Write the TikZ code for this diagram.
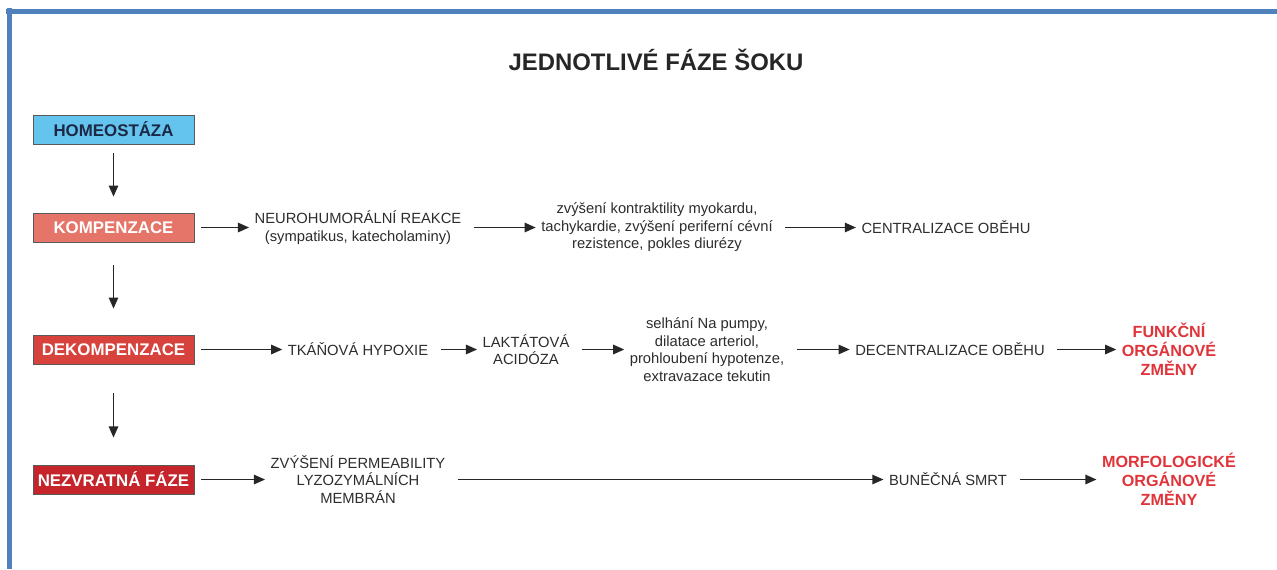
\documentclass[tikz,border=0pt]{standalone}
\usepackage{fontspec}
\setmainfont{Liberation Sans}
\usetikzlibrary{positioning}
\usetikzlibrary{arrows.meta}
\definecolor{framebl}{RGB}{79,129,189}
\definecolor{homeobl}{RGB}{100,196,238}
\definecolor{navytxt}{RGB}{28,40,70}
\definecolor{kompred}{RGB}{230,117,105}
\definecolor{dekred}{RGB}{216,66,60}
\definecolor{nezred}{RGB}{196,36,42}
\definecolor{organred}{RGB}{224,52,58}
\definecolor{txtgray}{RGB}{45,45,45}

\begin{document}
\begin{tikzpicture}[x=0.02cm,y=-0.02cm,
  phase/.style={draw=black!65, line width=0.5pt, minimum width=3.22cm, minimum height=0.58cm,
    inner sep=0pt, font=\fontsize{9.6}{11}\selectfont\bfseries},
  txt/.style={align=center, text=txtgray, inner sep=3pt, font=\fontsize{8.4}{10}\selectfont},
  organ/.style={align=center, text=organred, inner sep=3pt, font=\fontsize{9.2}{10.8}\selectfont\bfseries},
  arr/.style={-{Triangle[length=6.3pt,width=5.4pt]}, line width=0.7pt, draw=black!85, shorten <=4pt}]

\useasboundingbox (0,0) rectangle (1277,569);

% frame
\fill[white] (0,0) rectangle (1277,569);
\draw[framebl, line width=3.4pt] (6,11.5) -- (1277,11.5);
\draw[framebl, line width=3.4pt] (9.5,8) -- (9.5,569);

\node (title) at (656,60) [font=\fontsize{13.6}{16}\selectfont\bfseries, text=black!85] {JEDNOTLIVÉ FÁZE ŠOKU};

% phases
\node (homeo) at (113.5,129.5) [phase, fill=homeobl, text=navytxt] {HOMEOSTÁZA};
\node (komp)  at (113.5,227.5) [phase, fill=kompred, text=white] {KOMPENZACE};
\node (dekomp) at (113.5,349.5) [phase, fill=dekred, text=white] {DEKOMPENZACE};
\node (nezvr) at (113.5,479.5) [phase, fill=nezred, text=white] {NEZVRATNÁ FÁZE};

\draw[arr, shorten <=5.1pt, shorten >=9.1pt] (homeo) -- (komp);
\draw[arr, shorten <=13.1pt, shorten >=14.8pt] (komp) -- (dekomp);
\draw[arr, shorten <=16.5pt, shorten >=15.4pt] (dekomp) -- (nezvr);

% kompenzace
\node (neuro) at (358,227.5) [txt] {NEUROHUMORÁLNÍ REAKCE\\(sympatikus, katecholaminy)};
\node (kontr) at (657,227.5) [txt] {zvýšení kontraktility myokardu,\\tachykardie, zvýšení periferní cévní\\rezistence, pokles diurézy};
\node (centr) at (946,227.5) [txt] {CENTRALIZACE OBĚHU};

\draw[arr] (komp) -- (neuro);
\draw[arr] (neuro) -- (kontr);
\draw[arr] (kontr) -- (centr);

% dekompenzace
\node (hypox) at (358,349.5) [txt] {TKÁŇOVÁ HYPOXIE};
\node (lakt)  at (526,349.5) [txt] {LAKTÁTOVÁ\\ACIDÓZA};
\node (pumpy) at (707,349.5) [txt] {selhání Na pumpy,\\dilatace arteriol,\\prohloubení hypotenze,\\extravazace tekutin};
\node (decentr) at (950,349.5) [txt] {DECENTRALIZACE OBĚHU};
\node (funkc) at (1169,349.5) [organ] {FUNKČNÍ\\ORGÁNOVÉ\\ZMĚNY};

\draw[arr] (dekomp) -- (hypox);
\draw[arr] (hypox) -- (lakt);
\draw[arr] (lakt) -- (pumpy);
\draw[arr] (pumpy) -- (decentr);
\draw[arr] (decentr) -- (funkc);

% nezvratna faze
\node (perm) at (358,479.5) [txt] {ZVÝŠENÍ PERMEABILITY\\LYZOZYMÁLNÍCH\\MEMBRÁN};
\node (smrt) at (948,479.5) [txt] {BUNĚČNÁ SMRT};
\node (morf) at (1169,479.5) [organ] {MORFOLOGICKÉ\\ORGÁNOVÉ\\ZMĚNY};

\draw[arr] (nezvr) -- (perm);
\draw[arr] (perm) -- (smrt);
\draw[arr] (smrt) -- (morf);

\end{tikzpicture}
\end{document}
